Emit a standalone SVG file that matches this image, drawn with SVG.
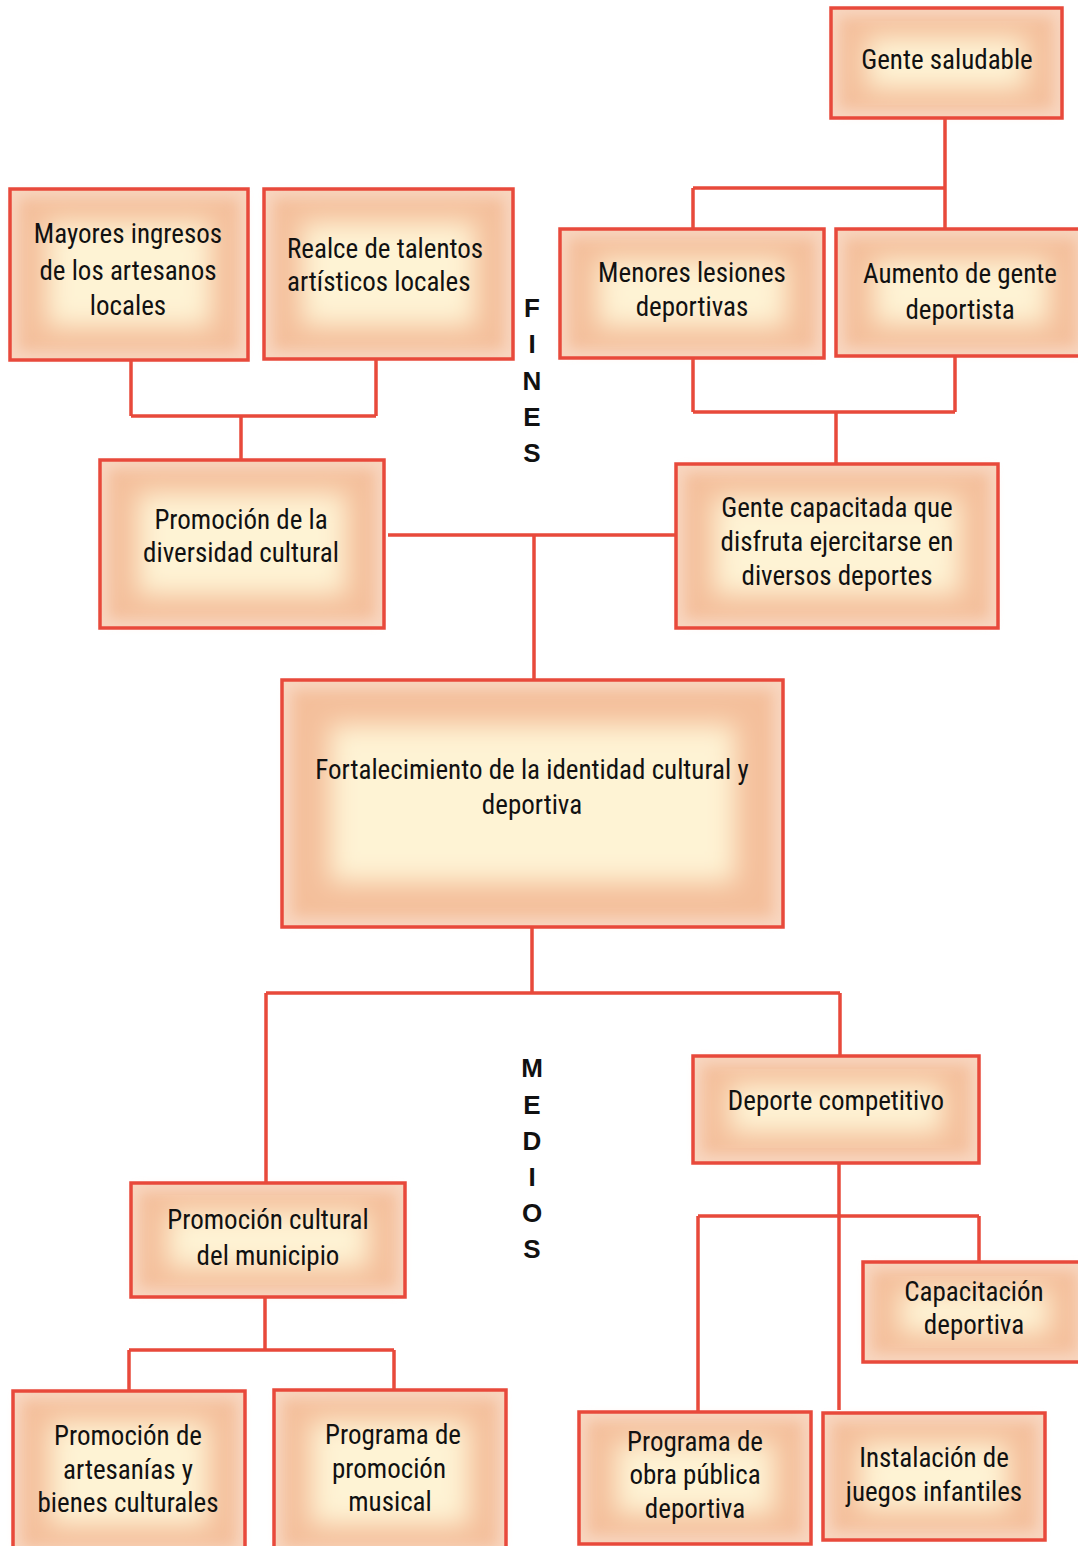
<svg xmlns="http://www.w3.org/2000/svg" width="1078" height="1546" viewBox="0 0 1078 1546">
<defs>
<filter id="b1" x="-30%" y="-30%" width="160%" height="160%"><feGaussianBlur stdDeviation="7"/></filter>
<filter id="b2" x="-30%" y="-30%" width="160%" height="160%"><feGaussianBlur stdDeviation="13"/></filter>
<style>
.rim{fill:#f8d6c0}
.mid{fill:#f4bf9b;filter:url(#b1)}
.core{fill:#fef3d4;filter:url(#b2)}
.bd{fill:none;stroke:#e8493b;stroke-width:3.5}
.t{font-family:"Liberation Sans Narrow","Roboto Condensed","Liberation Sans",sans-serif;font-size:27px;fill:#111;text-anchor:middle}
.tl{text-anchor:start}
.v{font-family:"Liberation Sans",Arial,sans-serif;font-weight:bold;font-size:26px;fill:#111;text-anchor:middle}
#connectors path{fill:none;stroke:#e8493b;stroke-width:3.5}
</style>
</defs>
<rect width="1078" height="1546" fill="#ffffff"/>

<g id="connectors">
<path d="M945 118V188M693 188H945M693 188V229M945 188V229"/>
<path d="M693 358V412M955 356V412M693 412H955M836 412V464"/>
<path d="M131 360V416M376 359V416M131 416H376M241 416V460"/>
<path d="M388 535H676M534 535V680"/>
<path d="M532 927V993M266 993H840M266 993V1183M840 993V1056"/>
<path d="M839 1163V1410M698 1216H979M698 1216V1412M979 1216V1262"/>
<path d="M265 1297V1350M129 1350H394M129 1350V1391M394 1350V1390"/>
</g>

<g id="n-gente-saludable">
<rect class="rim" x="831" y="8" width="231" height="110"/>
<rect class="mid" x="840" y="17" width="213" height="92"/>
<rect class="core" x="867" y="37" width="159" height="52"/>
<rect class="bd" x="831" y="8" width="231" height="110"/>
<text class="t" x="947" y="69">Gente saludable</text>
</g>

<g id="n-mayores-ingresos">
<rect class="rim" x="10" y="189" width="238" height="171"/>
<rect class="mid" x="19" y="198" width="220" height="153"/>
<rect class="core" x="47" y="222" width="164" height="105"/>
<rect class="bd" x="10" y="189" width="238" height="171"/>
<text class="t" x="128" y="243">Mayores ingresos</text>
<text class="t" x="128" y="280">de los artesanos</text>
<text class="t" x="128" y="315">locales</text>
</g>

<g id="n-realce-talentos">
<rect class="rim" x="264" y="189" width="249" height="170"/>
<rect class="mid" x="273" y="198" width="231" height="152"/>
<rect class="core" x="302" y="222" width="173" height="104"/>
<rect class="bd" x="264" y="189" width="249" height="170"/>
<text class="t tl" x="287" y="258">Realce de talentos</text>
<text class="t tl" x="287" y="291">artísticos locales</text>
</g>

<g id="n-menores-lesiones">
<rect class="rim" x="560" y="229" width="264" height="129"/>
<rect class="mid" x="569" y="238" width="246" height="111"/>
<rect class="core" x="598" y="260" width="188" height="67"/>
<rect class="bd" x="560" y="229" width="264" height="129"/>
<text class="t" x="692" y="282">Menores lesiones</text>
<text class="t" x="692" y="316">deportivas</text>
</g>

<g id="n-aumento-gente">
<rect class="rim" x="836" y="229" width="250" height="127"/>
<rect class="mid" x="845" y="238" width="232" height="109"/>
<rect class="core" x="874" y="260" width="174" height="65"/>
<rect class="bd" x="836" y="229" width="250" height="127"/>
<text class="t" x="960" y="283">Aumento de gente</text>
<text class="t" x="960" y="319">deportista</text>
</g>

<g id="n-promocion-diversidad">
<rect class="rim" x="100" y="460" width="284" height="168"/>
<rect class="mid" x="109" y="469" width="266" height="150"/>
<rect class="core" x="138" y="493" width="208" height="102"/>
<rect class="bd" x="100" y="460" width="284" height="168"/>
<text class="t" x="241" y="529">Promoción de la</text>
<text class="t" x="241" y="562">diversidad cultural</text>
</g>

<g id="n-gente-capacitada">
<rect class="rim" x="676" y="464" width="322" height="164"/>
<rect class="mid" x="685" y="473" width="304" height="146"/>
<rect class="core" x="714" y="497" width="246" height="98"/>
<rect class="bd" x="676" y="464" width="322" height="164"/>
<text class="t" x="837" y="517">Gente capacitada que</text>
<text class="t" x="837" y="551">disfruta ejercitarse en</text>
<text class="t" x="837" y="585">diversos deportes</text>
</g>

<g id="n-fortalecimiento">
<rect class="rim" x="282" y="680" width="501" height="247"/>
<rect class="mid" x="292" y="690" width="481" height="227"/>
<rect class="core" x="330" y="725" width="405" height="157"/>
<rect class="bd" x="282" y="680" width="501" height="247"/>
<text class="t" x="532" y="779">Fortalecimiento de la identidad cultural y</text>
<text class="t" x="532" y="814">deportiva</text>
</g>

<g id="label-fines">
<text class="v" x="532" y="317">F</text>
<text class="v" x="532" y="353">I</text>
<text class="v" x="532" y="390">N</text>
<text class="v" x="532" y="426">E</text>
<text class="v" x="532" y="462">S</text>
</g>

<g id="label-medios">
<text class="v" x="532" y="1077">M</text>
<text class="v" x="532" y="1114">E</text>
<text class="v" x="532" y="1150">D</text>
<text class="v" x="532" y="1186">I</text>
<text class="v" x="532" y="1222">O</text>
<text class="v" x="532" y="1258">S</text>
</g>

<g id="n-deporte-competitivo">
<rect class="rim" x="693" y="1056" width="286" height="107"/>
<rect class="mid" x="702" y="1065" width="268" height="89"/>
<rect class="core" x="730" y="1084" width="212" height="49"/>
<rect class="bd" x="693" y="1056" width="286" height="107"/>
<text class="t" x="836" y="1110">Deporte competitivo</text>
</g>

<g id="n-promocion-cultural">
<rect class="rim" x="131" y="1183" width="274" height="114"/>
<rect class="mid" x="140" y="1192" width="256" height="96"/>
<rect class="core" x="168" y="1212" width="200" height="56"/>
<rect class="bd" x="131" y="1183" width="274" height="114"/>
<text class="t" x="268" y="1229">Promoción cultural</text>
<text class="t" x="268" y="1265">del municipio</text>
</g>

<g id="n-capacitacion-deportiva">
<rect class="rim" x="863" y="1262" width="223" height="100"/>
<rect class="mid" x="872" y="1271" width="205" height="82"/>
<rect class="core" x="900" y="1290" width="149" height="44"/>
<rect class="bd" x="863" y="1262" width="223" height="100"/>
<text class="t" x="974" y="1301">Capacitación</text>
<text class="t" x="974" y="1334">deportiva</text>
</g>

<g id="n-promocion-artesanias">
<rect class="rim" x="13" y="1391" width="232" height="165"/>
<rect class="mid" x="22" y="1400" width="214" height="147"/>
<rect class="core" x="50" y="1422" width="158" height="103"/>
<rect class="bd" x="13" y="1391" width="232" height="165"/>
<text class="t" x="128" y="1445">Promoción de</text>
<text class="t" x="128" y="1479">artesanías y</text>
<text class="t" x="128" y="1512">bienes culturales</text>
</g>

<g id="n-programa-musical">
<rect class="rim" x="274" y="1390" width="232" height="166"/>
<rect class="mid" x="283" y="1399" width="214" height="148"/>
<rect class="core" x="311" y="1421" width="158" height="104"/>
<rect class="bd" x="274" y="1390" width="232" height="166"/>
<text class="t" x="393" y="1444">Programa de</text>
<text class="t" x="389" y="1478">promoción</text>
<text class="t" x="390" y="1511">musical</text>
</g>

<g id="n-programa-obra">
<rect class="rim" x="579" y="1412" width="232" height="132"/>
<rect class="mid" x="588" y="1421" width="214" height="114"/>
<rect class="core" x="616" y="1442" width="158" height="72"/>
<rect class="bd" x="579" y="1412" width="232" height="132"/>
<text class="t" x="695" y="1451">Programa de</text>
<text class="t" x="695" y="1484">obra pública</text>
<text class="t" x="695" y="1518">deportiva</text>
</g>

<g id="n-instalacion-juegos">
<rect class="rim" x="823" y="1413" width="222" height="127"/>
<rect class="mid" x="832" y="1422" width="204" height="109"/>
<rect class="core" x="860" y="1443" width="148" height="67"/>
<rect class="bd" x="823" y="1413" width="222" height="127"/>
<text class="t" x="934" y="1467">Instalación de</text>
<text class="t" x="934" y="1501">juegos infantiles</text>
</g>
</svg>
